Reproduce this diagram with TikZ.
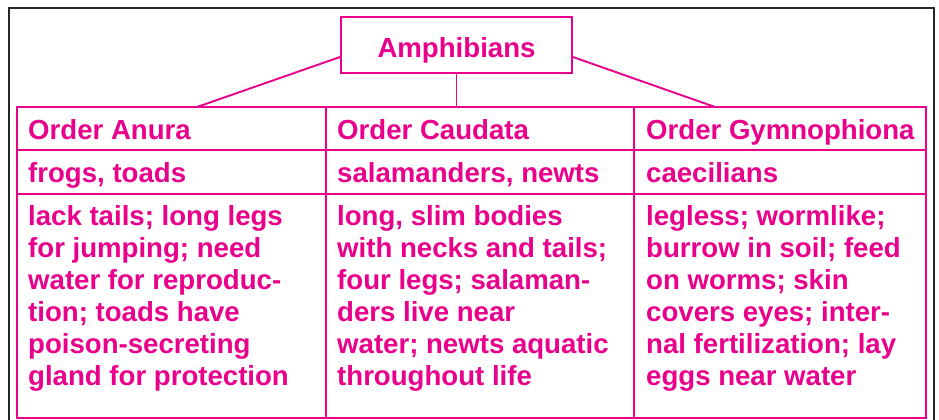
\documentclass[tikz,border=0pt]{standalone}
\usepackage{fontspec}
\setmainfont{Liberation Sans}
\definecolor{mag}{RGB}{233,0,139}
\begin{document}
\begin{tikzpicture}[x=1pt,y=-1pt,
  cell/.style={draw=mag,line width=1.9pt,anchor=north west,inner sep=0pt,outer sep=0pt},
  txt/.style={text=mag,font=\bfseries\fontsize{27.6}{32}\selectfont,anchor=base west,inner sep=0pt},
  link/.style={draw=mag,line width=1.9pt}]
\useasboundingbox (0,0) rectangle (939,420);
\draw[line width=2pt,color=black!85] (9,420) -- (9,8) -- (934,8) -- (934,420);
% title box
\node[draw=mag,line width=1.9pt,minimum width=231pt,minimum height=56pt,inner sep=0pt,
      text height=24pt,text depth=0pt,text=mag,font=\bfseries\fontsize{27.6}{32}\selectfont]
      (amph) at (456.5,45) {Amphibians};
% table cells
\node[cell,minimum width=309pt,minimum height=43pt] (h1) at (17,107) {};
\node[cell,minimum width=308pt,minimum height=43pt] (h2) at (326,107) {};
\node[cell,minimum width=292pt,minimum height=43pt] (h3) at (634,107) {};
\node[cell,minimum width=309pt,minimum height=44pt] (e1) at (17,150) {};
\node[cell,minimum width=308pt,minimum height=44pt] (e2) at (326,150) {};
\node[cell,minimum width=292pt,minimum height=44pt] (e3) at (634,150) {};
\node[cell,minimum width=309pt,minimum height=224pt] (d1) at (17,194) {};
\node[cell,minimum width=308pt,minimum height=224pt] (d2) at (326,194) {};
\node[cell,minimum width=292pt,minimum height=224pt] (d3) at (634,194) {};
% connectors
\coordinate (lend) at (197,107);
\coordinate (rend) at (715,107);
\draw[link] ([yshift=-12pt]amph.west) -- (lend);
\draw[link] ([yshift=-12pt]amph.east) -- (rend);
\draw[link] (amph.south) -- (amph.south |- h2.north);
% texts
\node[txt] (t1) at (28,139) {Order Anura};
\node[txt] (t2) at (337,139) {Order Caudata};
\node[txt] (t3) at (646,139) {Order Gymnophiona};
\node[txt] (x1) at (28,182) {frogs, toads};
\node[txt] (x2) at (337,182) {salamanders, newts};
\node[txt] (x3) at (646,182) {caecilians};
\node[txt] (b1) at (28,225) {\parbox[t]{296pt}{\raggedright lack tails; long legs\\for jumping; need\\water for reproduc-\\tion; toads have\\poison-secreting\\gland for protection}};
\node[txt] (b2) at (337,225) {\parbox[t]{296pt}{\raggedright long, slim bodies\\with necks and tails;\\four legs; salaman-\\ders live near\\water; newts aquatic\\throughout life}};
\node[txt] (b3) at (646,225) {\parbox[t]{280pt}{\raggedright legless; wormlike;\\burrow in soil; feed\\on worms; skin\\covers eyes; inter-\\nal fertilization; lay\\eggs near water}};
\end{tikzpicture}
\end{document}
